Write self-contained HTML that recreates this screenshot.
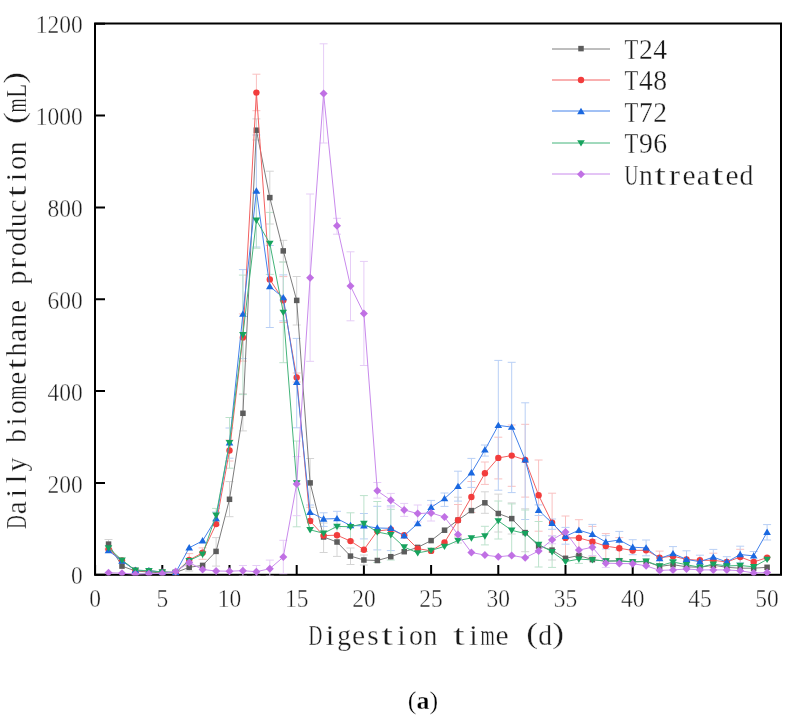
<!DOCTYPE html>
<html><head><meta charset="utf-8"><style>
html,body{margin:0;padding:0;background:#fff;width:797px;height:717px;overflow:hidden}
svg{display:block;will-change:transform}
.num{font-family:"Liberation Serif",serif;font-size:25.4px;fill:#1a1a1a;stroke:#fff;stroke-width:0.4px}
.mono{font-family:"Liberation Serif",serif;font-size:29.5px;fill:#1a1a1a;stroke:#fff;stroke-width:0.3px}
.cap{font-family:"Liberation Serif",serif;font-size:26px;fill:#000;stroke:#fff;stroke-width:0.35px}
</style></head><body>
<svg width="797" height="717" viewBox="0 0 797 717">
<rect width="797" height="717" fill="#fff"/>
<path d="M95.1,575V565M162.3,575V565M229.5,575V565M296.7,575V565M363.9,575V565M431.1,575V565M498.3,575V565M565.5,575V565M632.7,575V565M699.9,575V565M767.1,575V565M95,574.8H105M95,482.9H105M95,391.1H105M95,299.2H105M95,207.4H105M95,115.5H105M95,23.7H105" stroke="#000" stroke-width="2" fill="none"/>
<rect x="95" y="23.5" width="686" height="551.3" fill="none" stroke="#000" stroke-width="2"/>
<defs><clipPath id="pc"><rect x="94" y="22.5" width="688" height="553.1"/></clipPath></defs>
<g clip-path="url(#pc)">
<path d="M108.5,539.5V549.0M104.5,539.5h8M104.5,549.0h8M189.2,564.0V571.0M185.2,564.0h8M185.2,571.0h8M216.1,537.6V566.1M212.1,537.6h8M212.1,566.1h8M229.5,481.6V516.7M225.5,481.6h8M225.5,516.7h8M242.9,393.8V430.9M238.9,393.8h8M238.9,430.9h8M256.4,118.9V140.0M252.4,118.9h8M252.4,140.0h8M269.8,171.2V224.0M265.8,171.2h8M265.8,224.0h8M283.3,240.3V262.0M279.3,240.3h8M279.3,262.0h8M296.7,276.5V325.0M292.7,276.5h8M292.7,325.0h8M310.1,458.5V507.3M306.1,458.5h8M306.1,507.3h8M323.6,523.0V552.5M319.6,523.0h8M319.6,552.5h8M337.0,528.0V556.4M333.0,528.0h8M333.0,556.4h8M350.5,548.0V564.5M346.5,548.0h8M346.5,564.5h8M363.9,555.0V565.0M359.9,555.0h8M359.9,565.0h8M458.0,497.2V543.0M454.0,497.2h8M454.0,543.0h8M484.9,491.8V513.3M480.9,491.8h8M480.9,513.3h8M498.3,494.1V532.0M494.3,494.1h8M494.3,532.0h8M511.7,502.9V534.0M507.7,502.9h8M507.7,534.0h8M525.2,508.8V551.7M521.2,508.8h8M521.2,551.7h8M552.1,540.0V560.0M548.1,540.0h8M548.1,560.0h8" stroke="#d4d4d4" stroke-width="1" fill="none"/>
<path d="M189.2,553.6V566.0M185.2,553.6h8M185.2,566.0h8M202.6,547.9V559.3M198.6,547.9h8M198.6,559.3h8M229.5,440.0V461.0M225.5,440.0h8M225.5,461.0h8M242.9,313.9V361.1M238.9,313.9h8M238.9,361.1h8M256.4,74.2V110.7M252.4,74.2h8M252.4,110.7h8M283.3,276.6V322.5M279.3,276.6h8M279.3,322.5h8M296.7,373.0V382.0M292.7,373.0h8M292.7,382.0h8M458.0,504.5V536.0M454.0,504.5h8M454.0,536.0h8M471.4,481.5V512.5M467.4,481.5h8M467.4,512.5h8M484.9,462.0V484.4M480.9,462.0h8M480.9,484.4h8M498.3,437.2V478.9M494.3,437.2h8M494.3,478.9h8M511.7,425.0V486.3M507.7,425.0h8M507.7,486.3h8M525.2,424.3V497.1M521.2,424.3h8M521.2,497.1h8M538.6,460.0V531.2M534.6,460.0h8M534.6,531.2h8M552.1,493.2V552.0M548.1,493.2h8M548.1,552.0h8M565.5,516.0V560.0M561.5,516.0h8M561.5,560.0h8M578.9,519.7V557.0M574.9,519.7h8M574.9,557.0h8M592.4,526.4V557.0M588.4,526.4h8M588.4,557.0h8M605.8,533.6V558.6M601.8,533.6h8M601.8,558.6h8M619.3,537.6V558.8M615.3,537.6h8M615.3,558.8h8M659.6,551.1V564.0M655.6,551.1h8M655.6,564.0h8M713.3,553.2V567.4M709.3,553.2h8M709.3,567.4h8M740.2,549.3V565.0M736.2,549.3h8M736.2,565.0h8" stroke="#f9c0c0" stroke-width="1" fill="none"/>
<path d="M216.1,512.0V525.0M212.1,512.0h8M212.1,525.0h8M256.4,135.0V247.0M252.4,135.0h8M252.4,247.0h8M229.5,428.0V458.2M225.5,428.0h8M225.5,458.2h8M242.9,269.6V358.6M238.9,269.6h8M238.9,358.6h8M269.8,245.5V327.5M265.8,245.5h8M265.8,327.5h8M283.3,274.9V320.9M279.3,274.9h8M279.3,320.9h8M296.7,338.4V427.8M292.7,338.4h8M292.7,427.8h8M310.1,505.0V519.0M306.1,505.0h8M306.1,519.0h8M323.6,512.8V526.4M319.6,512.8h8M319.6,526.4h8M337.0,511.3V526.0M333.0,511.3h8M333.0,526.0h8M363.9,513.5V538.9M359.9,513.5h8M359.9,538.9h8M377.3,506.3V549.9M373.3,506.3h8M373.3,549.9h8M390.8,505.9V550.6M386.8,505.9h8M386.8,550.6h8M431.1,500.4V513.4M427.1,500.4h8M427.1,513.4h8M444.5,493.0V506.4M440.5,493.0h8M440.5,506.4h8M458.0,471.2V501.1M454.0,471.2h8M454.0,501.1h8M471.4,458.4V487.4M467.4,458.4h8M467.4,487.4h8M484.9,445.0V456.1M480.9,445.0h8M480.9,456.1h8M498.3,360.4V490.2M494.3,360.4h8M494.3,490.2h8M511.7,362.3V492.6M507.7,362.3h8M507.7,492.6h8M525.2,402.8V519.5M521.2,402.8h8M521.2,519.5h8M538.6,504.9V515.5M534.6,504.9h8M534.6,515.5h8M552.1,519.0V529.3M548.1,519.0h8M548.1,529.3h8M565.5,527.4V544.2M561.5,527.4h8M561.5,544.2h8M592.4,524.4V544.0M588.4,524.4h8M588.4,544.0h8M605.8,535.6V549.0M601.8,535.6h8M601.8,549.0h8M619.3,531.4V550.0M615.3,531.4h8M615.3,550.0h8M632.7,539.7V554.7M628.7,539.7h8M628.7,554.7h8M646.1,540.0V555.8M642.1,540.0h8M642.1,555.8h8M673.0,546.6V560.6M669.0,546.6h8M669.0,560.6h8M686.5,550.8V567.0M682.5,550.8h8M682.5,567.0h8M699.9,555.2V568.0M695.9,555.2h8M695.9,568.0h8M713.3,549.4V564.8M709.3,549.4h8M709.3,564.8h8M726.8,556.7V567.0M722.8,556.7h8M722.8,567.0h8M740.2,546.2V562.8M736.2,546.2h8M736.2,562.8h8M753.7,551.5V560.3M749.7,551.5h8M749.7,560.3h8M767.1,524.6V540.0M763.1,524.6h8M763.1,540.0h8" stroke="#b8cff5" stroke-width="1" fill="none"/>
<path d="M216.1,508.4V522.0M212.1,508.4h8M212.1,522.0h8M229.5,417.5V468.2M225.5,417.5h8M225.5,468.2h8M242.9,275.1V394.6M238.9,275.1h8M238.9,394.6h8M256.4,192.4V248.2M252.4,192.4h8M252.4,248.2h8M269.8,212.4V274.4M265.8,212.4h8M265.8,274.4h8M283.3,262.0V362.7M279.3,262.0h8M279.3,362.7h8M296.7,441.0V526.8M292.7,441.0h8M292.7,526.8h8M350.5,512.8V541.0M346.5,512.8h8M346.5,541.0h8M363.9,495.6V551.4M359.9,495.6h8M359.9,551.4h8M377.3,501.5V562.5M373.3,501.5h8M373.3,562.5h8M390.8,509.3V560.0M386.8,509.3h8M386.8,560.0h8M484.9,526.3V544.9M480.9,526.3h8M480.9,544.9h8M498.3,501.0V539.0M494.3,501.0h8M494.3,539.0h8M511.7,503.9V556.6M507.7,503.9h8M507.7,556.6h8M525.2,510.0V557.0M521.2,510.0h8M521.2,557.0h8M538.6,521.5V567.0M534.6,521.5h8M534.6,567.0h8M552.1,536.0V567.4M548.1,536.0h8M548.1,567.4h8M578.9,554.8V563.4M574.9,554.8h8M574.9,563.4h8" stroke="#bce2cc" stroke-width="1" fill="none"/>
<path d="M296.7,456.6V515.7M292.7,456.6h8M292.7,515.7h8M242.9,565.5V576.0M238.9,565.5h8M238.9,576.0h8M256.4,565.5V576.0M252.4,565.5h8M252.4,576.0h8M269.8,560.1V576.0M265.8,560.1h8M265.8,576.0h8M283.3,540.3V573.7M279.3,540.3h8M279.3,573.7h8M310.1,194.0V361.3M306.1,194.0h8M306.1,361.3h8M323.6,43.8V143.0M319.6,43.8h8M319.6,143.0h8M337.0,218.3V234.2M333.0,218.3h8M333.0,234.2h8M350.5,251.8V320.8M346.5,251.8h8M346.5,320.8h8M363.9,261.4V365.5M359.9,261.4h8M359.9,365.5h8M377.3,482.5V498.1M373.3,482.5h8M373.3,498.1h8M390.8,493.4V507.0M386.8,493.4h8M386.8,507.0h8M404.2,503.4V516.4M400.2,503.4h8M400.2,516.4h8M417.7,505.0V522.0M413.7,505.0h8M413.7,522.0h8M431.1,505.0V521.0M427.1,505.0h8M427.1,521.0h8M552.1,535.6V543.8M548.1,535.6h8M548.1,543.8h8M592.4,539.5V555.5M588.4,539.5h8M588.4,555.5h8M605.8,559.0V567.4M601.8,559.0h8M601.8,567.4h8" stroke="#e6cdf7" stroke-width="1" fill="none"/>
<polyline points="108.5,544.1 122.0,566.1 135.4,571.0 148.9,572.0 162.3,573.0 175.7,572.5 189.2,567.3 202.6,565.4 216.1,551.4 229.5,499.3 242.9,413.3 256.4,130.2 269.8,197.6 283.3,250.9 296.7,300.4 310.1,482.9 323.6,537.0 337.0,542.0 350.5,556.1 363.9,560.0 377.3,560.5 390.8,556.7 404.2,551.7 417.7,547.4 431.1,540.6 444.5,530.2 458.0,520.1 471.4,510.6 484.9,502.8 498.3,513.5 511.7,518.6 525.2,532.6 538.6,546.0 552.1,550.1 565.5,558.3 578.9,555.5 592.4,559.6 605.8,561.2 619.3,560.7 632.7,561.9 646.1,561.5 659.6,566.4 673.0,564.7 686.5,566.8 699.9,567.3 713.3,565.2 726.8,567.3 740.2,568.2 753.7,568.2 767.1,567.3" fill="none" stroke="#7c7c7c" stroke-width="1"/>
<rect x="105.79" y="541.35" width="5.5" height="5.5" fill="#5c5c5c"/><rect x="119.23" y="563.35" width="5.5" height="5.5" fill="#5c5c5c"/><rect x="132.67" y="568.25" width="5.5" height="5.5" fill="#5c5c5c"/><rect x="146.11" y="569.25" width="5.5" height="5.5" fill="#5c5c5c"/><rect x="159.55" y="570.25" width="5.5" height="5.5" fill="#5c5c5c"/><rect x="172.99" y="569.75" width="5.5" height="5.5" fill="#5c5c5c"/><rect x="186.43" y="564.55" width="5.5" height="5.5" fill="#5c5c5c"/><rect x="199.87" y="562.65" width="5.5" height="5.5" fill="#5c5c5c"/><rect x="213.31" y="548.65" width="5.5" height="5.5" fill="#5c5c5c"/><rect x="226.75" y="496.55" width="5.5" height="5.5" fill="#5c5c5c"/><rect x="240.19" y="410.55" width="5.5" height="5.5" fill="#5c5c5c"/><rect x="253.63" y="127.45" width="5.5" height="5.5" fill="#5c5c5c"/><rect x="267.07" y="194.85" width="5.5" height="5.5" fill="#5c5c5c"/><rect x="280.51" y="248.15" width="5.5" height="5.5" fill="#5c5c5c"/><rect x="293.95" y="297.65" width="5.5" height="5.5" fill="#5c5c5c"/><rect x="307.39" y="480.15" width="5.5" height="5.5" fill="#5c5c5c"/><rect x="320.83" y="534.25" width="5.5" height="5.5" fill="#5c5c5c"/><rect x="334.27" y="539.25" width="5.5" height="5.5" fill="#5c5c5c"/><rect x="347.71" y="553.35" width="5.5" height="5.5" fill="#5c5c5c"/><rect x="361.15" y="557.25" width="5.5" height="5.5" fill="#5c5c5c"/><rect x="374.59" y="557.75" width="5.5" height="5.5" fill="#5c5c5c"/><rect x="388.03" y="553.95" width="5.5" height="5.5" fill="#5c5c5c"/><rect x="401.47" y="548.95" width="5.5" height="5.5" fill="#5c5c5c"/><rect x="414.91" y="544.65" width="5.5" height="5.5" fill="#5c5c5c"/><rect x="428.35" y="537.85" width="5.5" height="5.5" fill="#5c5c5c"/><rect x="441.79" y="527.45" width="5.5" height="5.5" fill="#5c5c5c"/><rect x="455.23" y="517.35" width="5.5" height="5.5" fill="#5c5c5c"/><rect x="468.67" y="507.85" width="5.5" height="5.5" fill="#5c5c5c"/><rect x="482.11" y="500.05" width="5.5" height="5.5" fill="#5c5c5c"/><rect x="495.55" y="510.75" width="5.5" height="5.5" fill="#5c5c5c"/><rect x="508.99" y="515.85" width="5.5" height="5.5" fill="#5c5c5c"/><rect x="522.43" y="529.85" width="5.5" height="5.5" fill="#5c5c5c"/><rect x="535.87" y="543.25" width="5.5" height="5.5" fill="#5c5c5c"/><rect x="549.31" y="547.35" width="5.5" height="5.5" fill="#5c5c5c"/><rect x="562.75" y="555.55" width="5.5" height="5.5" fill="#5c5c5c"/><rect x="576.19" y="552.75" width="5.5" height="5.5" fill="#5c5c5c"/><rect x="589.63" y="556.85" width="5.5" height="5.5" fill="#5c5c5c"/><rect x="603.07" y="558.45" width="5.5" height="5.5" fill="#5c5c5c"/><rect x="616.51" y="557.95" width="5.5" height="5.5" fill="#5c5c5c"/><rect x="629.95" y="559.15" width="5.5" height="5.5" fill="#5c5c5c"/><rect x="643.39" y="558.75" width="5.5" height="5.5" fill="#5c5c5c"/><rect x="656.83" y="563.65" width="5.5" height="5.5" fill="#5c5c5c"/><rect x="670.27" y="561.95" width="5.5" height="5.5" fill="#5c5c5c"/><rect x="683.71" y="564.05" width="5.5" height="5.5" fill="#5c5c5c"/><rect x="697.15" y="564.55" width="5.5" height="5.5" fill="#5c5c5c"/><rect x="710.59" y="562.45" width="5.5" height="5.5" fill="#5c5c5c"/><rect x="724.03" y="564.55" width="5.5" height="5.5" fill="#5c5c5c"/><rect x="737.47" y="565.45" width="5.5" height="5.5" fill="#5c5c5c"/><rect x="750.91" y="565.45" width="5.5" height="5.5" fill="#5c5c5c"/><rect x="764.35" y="564.55" width="5.5" height="5.5" fill="#5c5c5c"/>
<polyline points="108.5,549.3 122.0,560.5 135.4,570.5 148.9,571.0 162.3,572.0 175.7,572.5 189.2,560.0 202.6,552.8 216.1,524.1 229.5,450.5 242.9,337.5 256.4,92.6 269.8,279.4 283.3,300.2 296.7,377.5 310.1,521.0 323.6,535.6 337.0,535.2 350.5,541.1 363.9,549.7 377.3,531.0 390.8,529.5 404.2,535.3 417.7,548.6 431.1,550.9 444.5,542.5 458.0,520.3 471.4,497.0 484.9,473.3 498.3,457.9 511.7,455.6 525.2,459.9 538.6,495.2 552.1,522.7 565.5,537.9 578.9,537.9 592.4,541.7 605.8,546.1 619.3,548.2 632.7,550.5 646.1,550.2 659.6,557.6 673.0,556.2 686.5,559.4 699.9,560.3 713.3,560.3 726.8,562.0 740.2,557.0 753.7,562.0 767.1,557.6" fill="none" stroke="#f36060" stroke-width="1"/>
<circle cx="108.5" cy="549.3" r="3.2" fill="#f23c3c"/><circle cx="122.0" cy="560.5" r="3.2" fill="#f23c3c"/><circle cx="135.4" cy="570.5" r="3.2" fill="#f23c3c"/><circle cx="148.9" cy="571.0" r="3.2" fill="#f23c3c"/><circle cx="162.3" cy="572.0" r="3.2" fill="#f23c3c"/><circle cx="175.7" cy="572.5" r="3.2" fill="#f23c3c"/><circle cx="189.2" cy="560.0" r="3.2" fill="#f23c3c"/><circle cx="202.6" cy="552.8" r="3.2" fill="#f23c3c"/><circle cx="216.1" cy="524.1" r="3.2" fill="#f23c3c"/><circle cx="229.5" cy="450.5" r="3.2" fill="#f23c3c"/><circle cx="242.9" cy="337.5" r="3.2" fill="#f23c3c"/><circle cx="256.4" cy="92.6" r="3.2" fill="#f23c3c"/><circle cx="269.8" cy="279.4" r="3.2" fill="#f23c3c"/><circle cx="283.3" cy="300.2" r="3.2" fill="#f23c3c"/><circle cx="296.7" cy="377.5" r="3.2" fill="#f23c3c"/><circle cx="310.1" cy="521.0" r="3.2" fill="#f23c3c"/><circle cx="323.6" cy="535.6" r="3.2" fill="#f23c3c"/><circle cx="337.0" cy="535.2" r="3.2" fill="#f23c3c"/><circle cx="350.5" cy="541.1" r="3.2" fill="#f23c3c"/><circle cx="363.9" cy="549.7" r="3.2" fill="#f23c3c"/><circle cx="377.3" cy="531.0" r="3.2" fill="#f23c3c"/><circle cx="390.8" cy="529.5" r="3.2" fill="#f23c3c"/><circle cx="404.2" cy="535.3" r="3.2" fill="#f23c3c"/><circle cx="417.7" cy="548.6" r="3.2" fill="#f23c3c"/><circle cx="431.1" cy="550.9" r="3.2" fill="#f23c3c"/><circle cx="444.5" cy="542.5" r="3.2" fill="#f23c3c"/><circle cx="458.0" cy="520.3" r="3.2" fill="#f23c3c"/><circle cx="471.4" cy="497.0" r="3.2" fill="#f23c3c"/><circle cx="484.9" cy="473.3" r="3.2" fill="#f23c3c"/><circle cx="498.3" cy="457.9" r="3.2" fill="#f23c3c"/><circle cx="511.7" cy="455.6" r="3.2" fill="#f23c3c"/><circle cx="525.2" cy="459.9" r="3.2" fill="#f23c3c"/><circle cx="538.6" cy="495.2" r="3.2" fill="#f23c3c"/><circle cx="552.1" cy="522.7" r="3.2" fill="#f23c3c"/><circle cx="565.5" cy="537.9" r="3.2" fill="#f23c3c"/><circle cx="578.9" cy="537.9" r="3.2" fill="#f23c3c"/><circle cx="592.4" cy="541.7" r="3.2" fill="#f23c3c"/><circle cx="605.8" cy="546.1" r="3.2" fill="#f23c3c"/><circle cx="619.3" cy="548.2" r="3.2" fill="#f23c3c"/><circle cx="632.7" cy="550.5" r="3.2" fill="#f23c3c"/><circle cx="646.1" cy="550.2" r="3.2" fill="#f23c3c"/><circle cx="659.6" cy="557.6" r="3.2" fill="#f23c3c"/><circle cx="673.0" cy="556.2" r="3.2" fill="#f23c3c"/><circle cx="686.5" cy="559.4" r="3.2" fill="#f23c3c"/><circle cx="699.9" cy="560.3" r="3.2" fill="#f23c3c"/><circle cx="713.3" cy="560.3" r="3.2" fill="#f23c3c"/><circle cx="726.8" cy="562.0" r="3.2" fill="#f23c3c"/><circle cx="740.2" cy="557.0" r="3.2" fill="#f23c3c"/><circle cx="753.7" cy="562.0" r="3.2" fill="#f23c3c"/><circle cx="767.1" cy="557.6" r="3.2" fill="#f23c3c"/>
<polyline points="108.5,550.6 122.0,561.1 135.4,570.2 148.9,570.7 162.3,572.0 175.7,572.5 189.2,547.8 202.6,540.8 216.1,518.5 229.5,442.7 242.9,314.1 256.4,191.0 269.8,286.5 283.3,297.6 296.7,382.3 310.1,512.2 323.6,519.0 337.0,518.6 350.5,525.5 363.9,525.9 377.3,528.0 390.8,528.3 404.2,535.7 417.7,523.6 431.1,507.4 444.5,498.6 458.0,486.4 471.4,472.8 484.9,449.9 498.3,425.4 511.7,427.1 525.2,459.9 538.6,510.2 552.1,523.2 565.5,536.3 578.9,530.2 592.4,534.2 605.8,542.0 619.3,540.0 632.7,547.2 646.1,547.9 659.6,558.6 673.0,553.6 686.5,559.4 699.9,561.7 713.3,557.1 726.8,562.0 740.2,554.5 753.7,555.9 767.1,532.2" fill="none" stroke="#4482ea" stroke-width="1"/>
<path d="M108.5,546.9L112.3,553.3L104.7,553.3Z" fill="#1a68e0"/><path d="M122.0,557.4L125.8,563.8L118.2,563.8Z" fill="#1a68e0"/><path d="M135.4,566.5L139.2,572.9L131.6,572.9Z" fill="#1a68e0"/><path d="M148.9,567.0L152.7,573.4L145.1,573.4Z" fill="#1a68e0"/><path d="M162.3,568.3L166.1,574.7L158.5,574.7Z" fill="#1a68e0"/><path d="M175.7,568.8L179.5,575.2L171.9,575.2Z" fill="#1a68e0"/><path d="M189.2,544.1L193.0,550.5L185.4,550.5Z" fill="#1a68e0"/><path d="M202.6,537.1L206.4,543.5L198.8,543.5Z" fill="#1a68e0"/><path d="M216.1,514.8L219.9,521.2L212.3,521.2Z" fill="#1a68e0"/><path d="M229.5,439.0L233.3,445.4L225.7,445.4Z" fill="#1a68e0"/><path d="M242.9,310.4L246.7,316.8L239.1,316.8Z" fill="#1a68e0"/><path d="M256.4,187.3L260.2,193.7L252.6,193.7Z" fill="#1a68e0"/><path d="M269.8,282.8L273.6,289.2L266.0,289.2Z" fill="#1a68e0"/><path d="M283.3,293.9L287.1,300.3L279.5,300.3Z" fill="#1a68e0"/><path d="M296.7,378.6L300.5,385.0L292.9,385.0Z" fill="#1a68e0"/><path d="M310.1,508.5L313.9,514.9L306.3,514.9Z" fill="#1a68e0"/><path d="M323.6,515.3L327.4,521.7L319.8,521.7Z" fill="#1a68e0"/><path d="M337.0,514.9L340.8,521.3L333.2,521.3Z" fill="#1a68e0"/><path d="M350.5,521.8L354.3,528.2L346.7,528.2Z" fill="#1a68e0"/><path d="M363.9,522.2L367.7,528.6L360.1,528.6Z" fill="#1a68e0"/><path d="M377.3,524.3L381.1,530.7L373.5,530.7Z" fill="#1a68e0"/><path d="M390.8,524.6L394.6,531.0L387.0,531.0Z" fill="#1a68e0"/><path d="M404.2,532.0L408.0,538.4L400.4,538.4Z" fill="#1a68e0"/><path d="M417.7,519.9L421.5,526.3L413.9,526.3Z" fill="#1a68e0"/><path d="M431.1,503.7L434.9,510.1L427.3,510.1Z" fill="#1a68e0"/><path d="M444.5,494.9L448.3,501.3L440.7,501.3Z" fill="#1a68e0"/><path d="M458.0,482.7L461.8,489.1L454.2,489.1Z" fill="#1a68e0"/><path d="M471.4,469.1L475.2,475.5L467.6,475.5Z" fill="#1a68e0"/><path d="M484.9,446.2L488.7,452.6L481.1,452.6Z" fill="#1a68e0"/><path d="M498.3,421.7L502.1,428.1L494.5,428.1Z" fill="#1a68e0"/><path d="M511.7,423.4L515.5,429.8L507.9,429.8Z" fill="#1a68e0"/><path d="M525.2,456.2L529.0,462.6L521.4,462.6Z" fill="#1a68e0"/><path d="M538.6,506.5L542.4,512.9L534.8,512.9Z" fill="#1a68e0"/><path d="M552.1,519.5L555.9,525.9L548.3,525.9Z" fill="#1a68e0"/><path d="M565.5,532.6L569.3,539.0L561.7,539.0Z" fill="#1a68e0"/><path d="M578.9,526.5L582.7,532.9L575.1,532.9Z" fill="#1a68e0"/><path d="M592.4,530.5L596.2,536.9L588.6,536.9Z" fill="#1a68e0"/><path d="M605.8,538.3L609.6,544.7L602.0,544.7Z" fill="#1a68e0"/><path d="M619.3,536.3L623.1,542.7L615.5,542.7Z" fill="#1a68e0"/><path d="M632.7,543.5L636.5,549.9L628.9,549.9Z" fill="#1a68e0"/><path d="M646.1,544.2L649.9,550.6L642.3,550.6Z" fill="#1a68e0"/><path d="M659.6,554.9L663.4,561.3L655.8,561.3Z" fill="#1a68e0"/><path d="M673.0,549.9L676.8,556.3L669.2,556.3Z" fill="#1a68e0"/><path d="M686.5,555.7L690.3,562.1L682.7,562.1Z" fill="#1a68e0"/><path d="M699.9,558.0L703.7,564.4L696.1,564.4Z" fill="#1a68e0"/><path d="M713.3,553.4L717.1,559.8L709.5,559.8Z" fill="#1a68e0"/><path d="M726.8,558.3L730.6,564.7L723.0,564.7Z" fill="#1a68e0"/><path d="M740.2,550.8L744.0,557.2L736.4,557.2Z" fill="#1a68e0"/><path d="M753.7,552.2L757.5,558.6L749.9,558.6Z" fill="#1a68e0"/><path d="M767.1,528.5L770.9,534.9L763.3,534.9Z" fill="#1a68e0"/>
<polyline points="108.5,547.9 122.0,560.1 135.4,570.2 148.9,570.7 162.3,572.0 175.7,572.5 189.2,560.6 202.6,554.2 216.1,515.2 229.5,442.7 242.9,334.8 256.4,220.3 269.8,243.4 283.3,312.4 296.7,483.0 310.1,529.8 323.6,533.3 337.0,526.4 350.5,526.8 363.9,523.5 377.3,532.0 390.8,534.7 404.2,547.0 417.7,552.9 431.1,550.4 444.5,546.4 458.0,540.5 471.4,538.0 484.9,536.0 498.3,520.9 511.7,530.3 525.2,533.6 538.6,544.4 552.1,551.8 565.5,561.6 578.9,559.1 592.4,559.9 605.8,561.0 619.3,561.0 632.7,561.9 646.1,561.2 659.6,565.9 673.0,562.0 686.5,564.7 699.9,567.3 713.3,564.1 726.8,565.9 740.2,565.5 753.7,566.8 767.1,559.4" fill="none" stroke="#43b47a" stroke-width="1"/>
<path d="M108.5,551.6L112.3,545.2L104.7,545.2Z" fill="#17a35e"/><path d="M122.0,563.8L125.8,557.4L118.2,557.4Z" fill="#17a35e"/><path d="M135.4,573.9L139.2,567.5L131.6,567.5Z" fill="#17a35e"/><path d="M148.9,574.4L152.7,568.0L145.1,568.0Z" fill="#17a35e"/><path d="M162.3,575.7L166.1,569.3L158.5,569.3Z" fill="#17a35e"/><path d="M175.7,576.2L179.5,569.8L171.9,569.8Z" fill="#17a35e"/><path d="M189.2,564.3L193.0,557.9L185.4,557.9Z" fill="#17a35e"/><path d="M202.6,557.9L206.4,551.5L198.8,551.5Z" fill="#17a35e"/><path d="M216.1,518.9L219.9,512.5L212.3,512.5Z" fill="#17a35e"/><path d="M229.5,446.4L233.3,440.0L225.7,440.0Z" fill="#17a35e"/><path d="M242.9,338.5L246.7,332.1L239.1,332.1Z" fill="#17a35e"/><path d="M256.4,224.0L260.2,217.6L252.6,217.6Z" fill="#17a35e"/><path d="M269.8,247.1L273.6,240.7L266.0,240.7Z" fill="#17a35e"/><path d="M283.3,316.1L287.1,309.7L279.5,309.7Z" fill="#17a35e"/><path d="M296.7,486.7L300.5,480.3L292.9,480.3Z" fill="#17a35e"/><path d="M310.1,533.5L313.9,527.1L306.3,527.1Z" fill="#17a35e"/><path d="M323.6,537.0L327.4,530.6L319.8,530.6Z" fill="#17a35e"/><path d="M337.0,530.1L340.8,523.7L333.2,523.7Z" fill="#17a35e"/><path d="M350.5,530.5L354.3,524.1L346.7,524.1Z" fill="#17a35e"/><path d="M363.9,527.2L367.7,520.8L360.1,520.8Z" fill="#17a35e"/><path d="M377.3,535.7L381.1,529.3L373.5,529.3Z" fill="#17a35e"/><path d="M390.8,538.4L394.6,532.0L387.0,532.0Z" fill="#17a35e"/><path d="M404.2,550.7L408.0,544.3L400.4,544.3Z" fill="#17a35e"/><path d="M417.7,556.6L421.5,550.2L413.9,550.2Z" fill="#17a35e"/><path d="M431.1,554.1L434.9,547.7L427.3,547.7Z" fill="#17a35e"/><path d="M444.5,550.1L448.3,543.7L440.7,543.7Z" fill="#17a35e"/><path d="M458.0,544.2L461.8,537.8L454.2,537.8Z" fill="#17a35e"/><path d="M471.4,541.7L475.2,535.3L467.6,535.3Z" fill="#17a35e"/><path d="M484.9,539.7L488.7,533.3L481.1,533.3Z" fill="#17a35e"/><path d="M498.3,524.6L502.1,518.2L494.5,518.2Z" fill="#17a35e"/><path d="M511.7,534.0L515.5,527.6L507.9,527.6Z" fill="#17a35e"/><path d="M525.2,537.3L529.0,530.9L521.4,530.9Z" fill="#17a35e"/><path d="M538.6,548.1L542.4,541.7L534.8,541.7Z" fill="#17a35e"/><path d="M552.1,555.5L555.9,549.1L548.3,549.1Z" fill="#17a35e"/><path d="M565.5,565.3L569.3,558.9L561.7,558.9Z" fill="#17a35e"/><path d="M578.9,562.8L582.7,556.4L575.1,556.4Z" fill="#17a35e"/><path d="M592.4,563.6L596.2,557.2L588.6,557.2Z" fill="#17a35e"/><path d="M605.8,564.7L609.6,558.3L602.0,558.3Z" fill="#17a35e"/><path d="M619.3,564.7L623.1,558.3L615.5,558.3Z" fill="#17a35e"/><path d="M632.7,565.6L636.5,559.2L628.9,559.2Z" fill="#17a35e"/><path d="M646.1,564.9L649.9,558.5L642.3,558.5Z" fill="#17a35e"/><path d="M659.6,569.6L663.4,563.2L655.8,563.2Z" fill="#17a35e"/><path d="M673.0,565.7L676.8,559.3L669.2,559.3Z" fill="#17a35e"/><path d="M686.5,568.4L690.3,562.0L682.7,562.0Z" fill="#17a35e"/><path d="M699.9,571.0L703.7,564.6L696.1,564.6Z" fill="#17a35e"/><path d="M713.3,567.8L717.1,561.4L709.5,561.4Z" fill="#17a35e"/><path d="M726.8,569.6L730.6,563.2L723.0,563.2Z" fill="#17a35e"/><path d="M740.2,569.2L744.0,562.8L736.4,562.8Z" fill="#17a35e"/><path d="M753.7,570.5L757.5,564.1L749.9,564.1Z" fill="#17a35e"/><path d="M767.1,563.1L770.9,556.7L763.3,556.7Z" fill="#17a35e"/>
<polyline points="108.5,572.7 122.0,573.2 135.4,574.2 148.9,573.7 162.3,573.5 175.7,571.4 189.2,562.6 202.6,569.5 216.1,571.0 229.5,571.2 242.9,570.7 256.4,571.7 269.8,568.7 283.3,557.1 296.7,483.9 310.1,277.7 323.6,93.6 337.0,225.8 350.5,286.1 363.9,313.5 377.3,490.8 390.8,500.2 404.2,509.9 417.7,513.6 431.1,512.9 444.5,517.1 458.0,534.5 471.4,552.5 484.9,555.1 498.3,556.8 511.7,555.4 525.2,557.8 538.6,551.0 552.1,539.7 565.5,532.1 578.9,550.1 592.4,547.2 605.8,563.2 619.3,563.5 632.7,563.7 646.1,565.8 659.6,570.4 673.0,569.9 686.5,569.0 699.9,569.9 713.3,569.9 726.8,569.9 740.2,570.8 753.7,572.9 767.1,572.6" fill="none" stroke="#c98aec" stroke-width="1"/>
<path d="M108.5,568.7L112.5,572.7L108.5,576.7L104.5,572.7Z" fill="#c070e4"/><path d="M122.0,569.2L126.0,573.2L122.0,577.2L118.0,573.2Z" fill="#c070e4"/><path d="M135.4,570.2L139.4,574.2L135.4,578.2L131.4,574.2Z" fill="#c070e4"/><path d="M148.9,569.7L152.9,573.7L148.9,577.7L144.9,573.7Z" fill="#c070e4"/><path d="M162.3,569.5L166.3,573.5L162.3,577.5L158.3,573.5Z" fill="#c070e4"/><path d="M175.7,567.4L179.7,571.4L175.7,575.4L171.7,571.4Z" fill="#c070e4"/><path d="M189.2,558.6L193.2,562.6L189.2,566.6L185.2,562.6Z" fill="#c070e4"/><path d="M202.6,565.5L206.6,569.5L202.6,573.5L198.6,569.5Z" fill="#c070e4"/><path d="M216.1,567.0L220.1,571.0L216.1,575.0L212.1,571.0Z" fill="#c070e4"/><path d="M229.5,567.2L233.5,571.2L229.5,575.2L225.5,571.2Z" fill="#c070e4"/><path d="M242.9,566.7L246.9,570.7L242.9,574.7L238.9,570.7Z" fill="#c070e4"/><path d="M256.4,567.7L260.4,571.7L256.4,575.7L252.4,571.7Z" fill="#c070e4"/><path d="M269.8,564.7L273.8,568.7L269.8,572.7L265.8,568.7Z" fill="#c070e4"/><path d="M283.3,553.1L287.3,557.1L283.3,561.1L279.3,557.1Z" fill="#c070e4"/><path d="M296.7,479.9L300.7,483.9L296.7,487.9L292.7,483.9Z" fill="#c070e4"/><path d="M310.1,273.7L314.1,277.7L310.1,281.7L306.1,277.7Z" fill="#c070e4"/><path d="M323.6,89.6L327.6,93.6L323.6,97.6L319.6,93.6Z" fill="#c070e4"/><path d="M337.0,221.8L341.0,225.8L337.0,229.8L333.0,225.8Z" fill="#c070e4"/><path d="M350.5,282.1L354.5,286.1L350.5,290.1L346.5,286.1Z" fill="#c070e4"/><path d="M363.9,309.5L367.9,313.5L363.9,317.5L359.9,313.5Z" fill="#c070e4"/><path d="M377.3,486.8L381.3,490.8L377.3,494.8L373.3,490.8Z" fill="#c070e4"/><path d="M390.8,496.2L394.8,500.2L390.8,504.2L386.8,500.2Z" fill="#c070e4"/><path d="M404.2,505.9L408.2,509.9L404.2,513.9L400.2,509.9Z" fill="#c070e4"/><path d="M417.7,509.6L421.7,513.6L417.7,517.6L413.7,513.6Z" fill="#c070e4"/><path d="M431.1,508.9L435.1,512.9L431.1,516.9L427.1,512.9Z" fill="#c070e4"/><path d="M444.5,513.1L448.5,517.1L444.5,521.1L440.5,517.1Z" fill="#c070e4"/><path d="M458.0,530.5L462.0,534.5L458.0,538.5L454.0,534.5Z" fill="#c070e4"/><path d="M471.4,548.5L475.4,552.5L471.4,556.5L467.4,552.5Z" fill="#c070e4"/><path d="M484.9,551.1L488.9,555.1L484.9,559.1L480.9,555.1Z" fill="#c070e4"/><path d="M498.3,552.8L502.3,556.8L498.3,560.8L494.3,556.8Z" fill="#c070e4"/><path d="M511.7,551.4L515.7,555.4L511.7,559.4L507.7,555.4Z" fill="#c070e4"/><path d="M525.2,553.8L529.2,557.8L525.2,561.8L521.2,557.8Z" fill="#c070e4"/><path d="M538.6,547.0L542.6,551.0L538.6,555.0L534.6,551.0Z" fill="#c070e4"/><path d="M552.1,535.7L556.1,539.7L552.1,543.7L548.1,539.7Z" fill="#c070e4"/><path d="M565.5,528.1L569.5,532.1L565.5,536.1L561.5,532.1Z" fill="#c070e4"/><path d="M578.9,546.1L582.9,550.1L578.9,554.1L574.9,550.1Z" fill="#c070e4"/><path d="M592.4,543.2L596.4,547.2L592.4,551.2L588.4,547.2Z" fill="#c070e4"/><path d="M605.8,559.2L609.8,563.2L605.8,567.2L601.8,563.2Z" fill="#c070e4"/><path d="M619.3,559.5L623.3,563.5L619.3,567.5L615.3,563.5Z" fill="#c070e4"/><path d="M632.7,559.7L636.7,563.7L632.7,567.7L628.7,563.7Z" fill="#c070e4"/><path d="M646.1,561.8L650.1,565.8L646.1,569.8L642.1,565.8Z" fill="#c070e4"/><path d="M659.6,566.4L663.6,570.4L659.6,574.4L655.6,570.4Z" fill="#c070e4"/><path d="M673.0,565.9L677.0,569.9L673.0,573.9L669.0,569.9Z" fill="#c070e4"/><path d="M686.5,565.0L690.5,569.0L686.5,573.0L682.5,569.0Z" fill="#c070e4"/><path d="M699.9,565.9L703.9,569.9L699.9,573.9L695.9,569.9Z" fill="#c070e4"/><path d="M713.3,565.9L717.3,569.9L713.3,573.9L709.3,569.9Z" fill="#c070e4"/><path d="M726.8,565.9L730.8,569.9L726.8,573.9L722.8,569.9Z" fill="#c070e4"/><path d="M740.2,566.8L744.2,570.8L740.2,574.8L736.2,570.8Z" fill="#c070e4"/><path d="M753.7,568.9L757.7,572.9L753.7,576.9L749.7,572.9Z" fill="#c070e4"/><path d="M767.1,568.6L771.1,572.6L767.1,576.6L763.1,572.6Z" fill="#c070e4"/>
</g>
<g class="num"><text transform="translate(95.1,606.6) scale(0.925,1)" text-anchor="middle">0</text><text transform="translate(162.3,606.6) scale(0.925,1)" text-anchor="middle">5</text><text transform="translate(229.5,606.6) scale(0.925,1)" text-anchor="middle">10</text><text transform="translate(296.7,606.6) scale(0.925,1)" text-anchor="middle">15</text><text transform="translate(363.9,606.6) scale(0.925,1)" text-anchor="middle">20</text><text transform="translate(431.1,606.6) scale(0.925,1)" text-anchor="middle">25</text><text transform="translate(498.3,606.6) scale(0.925,1)" text-anchor="middle">30</text><text transform="translate(565.5,606.6) scale(0.925,1)" text-anchor="middle">35</text><text transform="translate(632.7,606.6) scale(0.925,1)" text-anchor="middle">40</text><text transform="translate(699.9,606.6) scale(0.925,1)" text-anchor="middle">45</text><text transform="translate(767.1,606.6) scale(0.925,1)" text-anchor="middle">50</text><text transform="translate(82.7,584.4) scale(0.925,1)" text-anchor="end">0</text><text transform="translate(82.7,492.5) scale(0.925,1)" text-anchor="end">200</text><text transform="translate(82.7,400.7) scale(0.925,1)" text-anchor="end">400</text><text transform="translate(82.7,308.8) scale(0.925,1)" text-anchor="end">600</text><text transform="translate(82.7,217.0) scale(0.925,1)" text-anchor="end">800</text><text transform="translate(82.7,125.1) scale(0.925,1)" text-anchor="end">1000</text><text transform="translate(82.7,33.3) scale(0.925,1)" text-anchor="end">1200</text></g>
<line x1="552" y1="49.0" x2="610" y2="49.0" stroke="#7c7c7c" stroke-width="1"/>
<rect x="578.25" y="45.85" width="5.5" height="5.5" fill="#5c5c5c"/>
<text class="mono" text-anchor="middle" transform="translate(631.5,58.6) scale(0.766,1)">T</text><text class="mono" text-anchor="middle" transform="translate(645.9,58.6) scale(0.936,1)">2</text><text class="mono" text-anchor="middle" transform="translate(660.2,58.6) scale(0.936,1)">4</text>
<line x1="552" y1="80.0" x2="610" y2="80.0" stroke="#f36060" stroke-width="1"/>
<circle cx="581.0" cy="80.0" r="3.2" fill="#f23c3c"/>
<text class="mono" text-anchor="middle" transform="translate(631.5,90.2) scale(0.766,1)">T</text><text class="mono" text-anchor="middle" transform="translate(645.9,90.2) scale(0.936,1)">4</text><text class="mono" text-anchor="middle" transform="translate(660.2,90.2) scale(0.936,1)">8</text>
<line x1="552" y1="111.0" x2="610" y2="111.0" stroke="#4482ea" stroke-width="1"/>
<path d="M581.0,107.8L584.8,114.2L577.2,114.2Z" fill="#1a68e0"/>
<text class="mono" text-anchor="middle" transform="translate(631.5,121.8) scale(0.766,1)">T</text><text class="mono" text-anchor="middle" transform="translate(645.9,121.8) scale(0.936,1)">7</text><text class="mono" text-anchor="middle" transform="translate(660.2,121.8) scale(0.936,1)">2</text>
<line x1="552" y1="143.0" x2="610" y2="143.0" stroke="#43b47a" stroke-width="1"/>
<path d="M581.0,146.6L584.8,140.2L577.2,140.2Z" fill="#17a35e"/>
<text class="mono" text-anchor="middle" transform="translate(631.5,153.4) scale(0.766,1)">T</text><text class="mono" text-anchor="middle" transform="translate(645.9,153.4) scale(0.936,1)">9</text><text class="mono" text-anchor="middle" transform="translate(660.2,153.4) scale(0.936,1)">6</text>
<line x1="552" y1="174.0" x2="610" y2="174.0" stroke="#c98aec" stroke-width="1"/>
<path d="M581.0,170.3L585.0,174.3L581.0,178.3L577.0,174.3Z" fill="#c070e4"/>
<text class="mono" text-anchor="middle" transform="translate(631.5,185.0) scale(0.648,1)">U</text><text class="mono" text-anchor="middle" transform="translate(645.9,185.0) scale(0.936,1)">n</text><text class="mono" text-anchor="middle" transform="translate(660.2,185.0) scale(1.400,1)">t</text><text class="mono" text-anchor="middle" transform="translate(674.6,185.0) scale(1.120,1)">r</text><text class="mono" text-anchor="middle" transform="translate(689.0,185.0) scale(1.000,1)">e</text><text class="mono" text-anchor="middle" transform="translate(703.4,185.0) scale(1.000,1)">a</text><text class="mono" text-anchor="middle" transform="translate(717.7,185.0) scale(1.400,1)">t</text><text class="mono" text-anchor="middle" transform="translate(732.1,185.0) scale(1.000,1)">e</text><text class="mono" text-anchor="middle" transform="translate(746.5,185.0) scale(0.936,1)">d</text>
<text class="mono" text-anchor="middle" transform="translate(315.5,644.5) scale(0.648,1)">D</text><text class="mono" text-anchor="middle" transform="translate(329.9,644.5) scale(1.100,1)">i</text><text class="mono" text-anchor="middle" transform="translate(344.2,644.5) scale(0.936,1)">g</text><text class="mono" text-anchor="middle" transform="translate(358.6,644.5) scale(1.000,1)">e</text><text class="mono" text-anchor="middle" transform="translate(372.9,644.5) scale(1.000,1)">s</text><text class="mono" text-anchor="middle" transform="translate(387.2,644.5) scale(1.400,1)">t</text><text class="mono" text-anchor="middle" transform="translate(401.6,644.5) scale(1.100,1)">i</text><text class="mono" text-anchor="middle" transform="translate(415.9,644.5) scale(0.936,1)">o</text><text class="mono" text-anchor="middle" transform="translate(430.3,644.5) scale(0.936,1)">n</text><text class="mono" text-anchor="middle" transform="translate(459.0,644.5) scale(1.400,1)">t</text><text class="mono" text-anchor="middle" transform="translate(473.4,644.5) scale(1.100,1)">i</text><text class="mono" text-anchor="middle" transform="translate(487.7,644.5) scale(0.620,1)">m</text><text class="mono" text-anchor="middle" transform="translate(502.0,644.5) scale(1.000,1)">e</text><text class="mono" text-anchor="middle" transform="translate(532.2,642.5) scale(1.200,1)">(</text><text class="mono" text-anchor="middle" transform="translate(545.1,644.5) scale(0.936,1)">d</text><text class="mono" text-anchor="middle" transform="translate(558.2,642.5) scale(1.200,1)">)</text>
<text class="mono" text-anchor="middle" transform="translate(25.8,522.0) rotate(-90) scale(0.648,1)">D</text><text class="mono" text-anchor="middle" transform="translate(25.8,507.6) rotate(-90) scale(1.000,1)">a</text><text class="mono" text-anchor="middle" transform="translate(25.8,493.3) rotate(-90) scale(1.100,1)">i</text><text class="mono" text-anchor="middle" transform="translate(25.8,478.9) rotate(-90) scale(1.100,1)">l</text><text class="mono" text-anchor="middle" transform="translate(25.8,464.5) rotate(-90) scale(0.936,1)">y</text><text class="mono" text-anchor="middle" transform="translate(25.8,435.8) rotate(-90) scale(0.936,1)">b</text><text class="mono" text-anchor="middle" transform="translate(25.8,421.4) rotate(-90) scale(1.100,1)">i</text><text class="mono" text-anchor="middle" transform="translate(25.8,407.0) rotate(-90) scale(0.936,1)">o</text><text class="mono" text-anchor="middle" transform="translate(25.8,392.7) rotate(-90) scale(0.620,1)">m</text><text class="mono" text-anchor="middle" transform="translate(25.8,378.3) rotate(-90) scale(1.000,1)">e</text><text class="mono" text-anchor="middle" transform="translate(25.8,363.9) rotate(-90) scale(1.400,1)">t</text><text class="mono" text-anchor="middle" transform="translate(25.8,349.6) rotate(-90) scale(0.936,1)">h</text><text class="mono" text-anchor="middle" transform="translate(25.8,335.2) rotate(-90) scale(1.000,1)">a</text><text class="mono" text-anchor="middle" transform="translate(25.8,320.8) rotate(-90) scale(0.936,1)">n</text><text class="mono" text-anchor="middle" transform="translate(25.8,306.5) rotate(-90) scale(1.000,1)">e</text><text class="mono" text-anchor="middle" transform="translate(25.8,277.7) rotate(-90) scale(0.936,1)">p</text><text class="mono" text-anchor="middle" transform="translate(25.8,263.3) rotate(-90) scale(1.120,1)">r</text><text class="mono" text-anchor="middle" transform="translate(25.8,249.0) rotate(-90) scale(0.936,1)">o</text><text class="mono" text-anchor="middle" transform="translate(25.8,234.6) rotate(-90) scale(0.936,1)">d</text><text class="mono" text-anchor="middle" transform="translate(25.8,220.2) rotate(-90) scale(0.936,1)">u</text><text class="mono" text-anchor="middle" transform="translate(25.8,205.9) rotate(-90) scale(1.000,1)">c</text><text class="mono" text-anchor="middle" transform="translate(25.8,191.5) rotate(-90) scale(1.400,1)">t</text><text class="mono" text-anchor="middle" transform="translate(25.8,177.1) rotate(-90) scale(1.100,1)">i</text><text class="mono" text-anchor="middle" transform="translate(25.8,162.8) rotate(-90) scale(0.936,1)">o</text><text class="mono" text-anchor="middle" transform="translate(25.8,148.4) rotate(-90) scale(0.936,1)">n</text><text class="mono" text-anchor="middle" transform="translate(23.8,118.1) rotate(-90) scale(1.200,1)">(</text><text class="mono" text-anchor="middle" transform="translate(25.8,105.3) rotate(-90) scale(0.620,1)">m</text><text class="mono" text-anchor="middle" transform="translate(25.8,90.9) rotate(-90) scale(0.766,1)">L</text><text class="mono" text-anchor="middle" transform="translate(23.8,77.8) rotate(-90) scale(1.200,1)">)</text>
<text class="cap" x="423" y="708.6" text-anchor="middle">(<tspan font-weight="bold">a</tspan>)</text>
</svg>
</body></html>
